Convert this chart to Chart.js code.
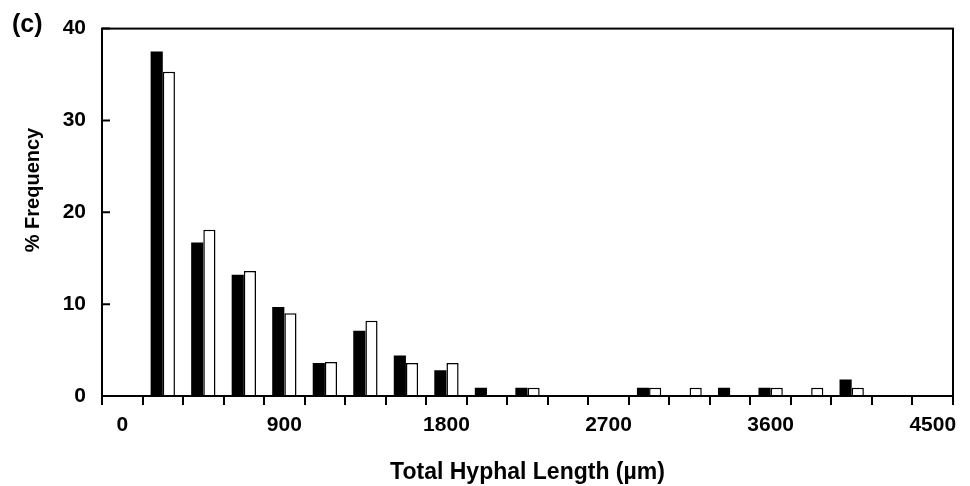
<!DOCTYPE html>
<meta charset="utf-8">
<style>
	html, body { margin: 0; padding: 0; background: #fff; }
	#container { width: 970px; height: 486px; }
</style>
<body>
	<script src="https://cdn.jsdelivr.net/npm/chart.js@4/dist/chart.umd.min.js"></script>

	<div id="container">
		<canvas id="hyphaChart"></canvas>
	</div>

	<script>
		// bin labels (µm), one category per 225 µm
		var lengths = ['0', '225', '450', '675', '900', '1125', '1350', '1575', '1800', '2025', '2250',
			'2475', '2700', '2925', '3150', '3375', '3600', '3825', '4050', '4275', '4500'];
		// % frequency, black bars
		var blackValues = [0, 37.5, 16.7, 13.2, 9.7, 3.6, 7.1, 4.4, 2.8, 0.9, 0.9,
			0, 0, 0.9, 0, 0.9, 0.9, 0, 1.8, 0, 0];
		// % frequency, white bars
		var whiteValues = [0, 35.3, 18.1, 13.6, 9.0, 3.7, 8.2, 3.6, 3.6, 0, 0.9,
			0, 0, 0.9, 0.9, 0, 0.9, 0.9, 0.9, 0, 0];
		var yTicks = [0, 10, 20, 30, 40];

		var font = '"Liberation Sans", Arial, sans-serif';

		// white page, box round the plot, inward y ticks, panel letter and y title
		var framePlugin = {
			id: 'frame',
			beforeDraw: function(chart) {
				var ctx = chart.ctx;
				ctx.save();
				ctx.fillStyle = '#fff';
				ctx.fillRect(0, 0, chart.width, chart.height);
				ctx.restore();
			},
			afterDraw: function(chart) {
				var ctx = chart.ctx;
				var a = chart.chartArea;
				var y = chart.scales.y;
				ctx.save();
				ctx.strokeStyle = '#000';
				ctx.lineWidth = 2;
				ctx.strokeRect(a.left, a.top, a.right - a.left, a.bottom - a.top);
				ctx.beginPath();
				yTicks.forEach(function(v) {
					var py = y.getPixelForValue(v);
					ctx.moveTo(a.left, py);
					ctx.lineTo(a.left + 8, py);
				});
				ctx.stroke();

				ctx.fillStyle = '#000';
				ctx.font = 'bold 25px ' + font;
				ctx.textAlign = 'left';
				ctx.textBaseline = 'middle';
				ctx.fillText('(c)', 12, 25);

				ctx.font = 'bold 20px ' + font;
				ctx.textAlign = 'center';
				ctx.translate(33, 190);
				ctx.rotate(-Math.PI / 2);
				ctx.fillText('% Frequency', 0, 0);
				ctx.restore();
			}
		};

		var chart = new Chart(document.getElementById('hyphaChart'), {
			type: 'bar',
			data: {
				labels: lengths,
				datasets: [{
					label: 'black',
					data: blackValues,
					backgroundColor: '#000',
					borderColor: '#000',
					borderWidth: 0
				}, {
					label: 'white',
					data: whiteValues,
					backgroundColor: '#fff',
					borderColor: '#000',
					borderWidth: 1.5
				}]
			},
			options: {
				responsive: true,
				maintainAspectRatio: false,
				animation: false,
				layout: { padding: { top: 20, right: 17, left: 0, bottom: 0 } },
				plugins: {
					legend: { display: false },
					tooltip: { enabled: false }
				},
				datasets: {
					bar: { categoryPercentage: 0.6, barPercentage: 1.0 }
				},
				scales: {
					x: {
						grid: {
							display: true,
							offset: true,
							drawOnChartArea: false,
							drawTicks: true,
							tickLength: 9,
							color: '#000',
							lineWidth: 2
						},
						border: { display: false },
						ticks: {
							autoSkip: false,
							maxRotation: 0,
							padding: 8,
							color: '#000',
							font: { family: font, size: 21, weight: 'bold' },
							callback: function(v, i) { return i % 4 === 0 ? lengths[i] : ''; }
						},
						title: {
							display: true,
							text: 'Total Hyphal Length (µm)',
							color: '#000',
							font: { family: font, size: 23, weight: 'bold' },
							padding: { top: 0, bottom: 0 }
						},
						afterFit: function(s) { s.height = 90; }
					},
					y: {
						min: 0,
						max: 40,
						grid: { display: false, drawTicks: false },
						border: { display: false },
						ticks: {
							stepSize: 10,
							padding: 16,
							color: '#000',
							font: { family: font, size: 21, weight: 'bold' }
						},
						afterFit: function(s) { s.width = 102; }
					}
				}
			},
			plugins: [framePlugin]
		});
	</script>
</body>
